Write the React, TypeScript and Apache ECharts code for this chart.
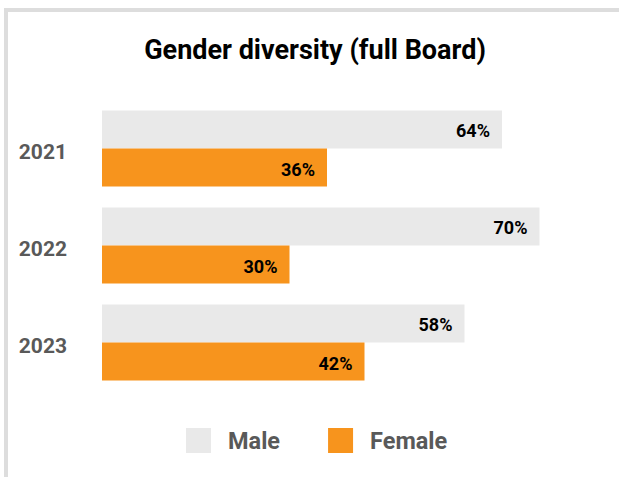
import React, { useEffect, useRef } from "react";
import * as echarts from "echarts";

const years = ["2021", "2022", "2023"];
const maleValues = [64, 70, 58];
const femaleValues = [36, 30, 42];
const seriesNames = ["Male", "Female"];
const titleText = "Gender diversity (full Board)";

export default function App() {
  const ref = useRef<HTMLDivElement>(null);
  useEffect(() => {
    if (!ref.current) return;
    const chart = echarts.init(ref.current, null, { renderer: "svg" });
    const labelStyle = {
      show: true,
      position: "insideRight" as const,
      distance: 12,
      formatter: "{c}%",
      color: "#000",
      fontWeight: "bold" as const,
      fontSize: 18,
      fontFamily: "Roboto",
      verticalAlign: "top" as const,
      lineHeight: 3,
    };
    chart.setOption({
      animation: false,
      textStyle: { fontFamily: "Roboto" },
      title: {
        text: titleText,
        left: 315,
        textAlign: "center",
        top: 36,
        padding: 0,
        textStyle: { fontSize: 27, fontWeight: "bold", color: "#000", fontFamily: "Roboto" },
      },
      graphic: [
        { type: "rect", shape: { x: 4, y: 8, width: 615, height: 4 }, style: { fill: "#dddddd" } },
        { type: "rect", shape: { x: 4, y: 8, width: 4, height: 469 }, style: { fill: "#dddddd" } },
      ],
      legend: {
        data: seriesNames,
        left: 186,
        top: 428,
        padding: 0,
        itemWidth: 25,
        itemHeight: 25,
        itemGap: 48,
        icon: "rect",
        textStyle: { fontSize: 23.5, fontWeight: "bold", color: "#595959", fontFamily: "Roboto", padding: [0, 0, 0, 12] },
      },
      grid: { left: 102, top: 100, width: 500, height: 291, containLabel: false },
      xAxis: {
        type: "value",
        min: 0,
        max: 80,
        show: false,
      },
      yAxis: {
        type: "category",
        data: years,
        inverse: true,
        axisLine: { show: false },
        axisTick: { show: false },
        axisLabel: {
          fontSize: 21,
          fontWeight: "bold",
          color: "#595959",
          margin: 35,
          fontFamily: "Roboto",
          verticalAlign: "top",
          lineHeight: 6,
        },
      },
      series: [
        {
          name: seriesNames[0],
          type: "bar",
          data: maleValues,
          itemStyle: { color: "#e9e9e9" },
          barGap: "0%",
          barCategoryGap: "21.6%",
          label: labelStyle,
        },
        {
          name: seriesNames[1],
          type: "bar",
          data: femaleValues,
          itemStyle: { color: "#f7941d" },
          barGap: "0%",
          barCategoryGap: "21.6%",
          label: labelStyle,
        },
      ],
    });
    return () => chart.dispose();
  }, []);
  return (
    <div
      ref={ref}
      style={{ position: "fixed", left: 0, top: 0, width: 619, height: 477, background: "#fff" }}
    />
  );
}
